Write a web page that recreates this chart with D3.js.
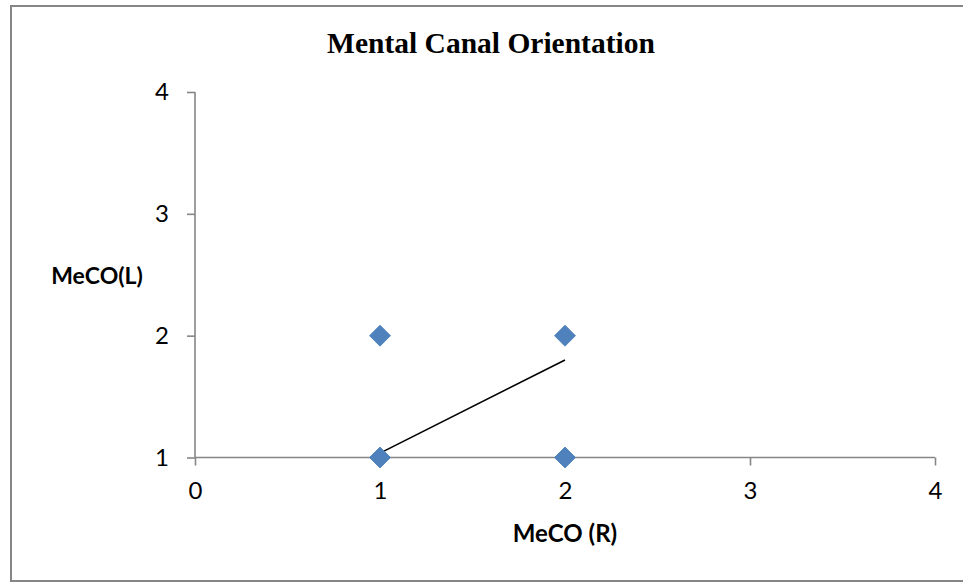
<!DOCTYPE html>
<html>
<head>
<meta charset="utf-8">
<script src="https://cdn.jsdelivr.net/npm/d3@7/dist/d3.min.js"></script>
<style>
  html, body { margin: 0; padding: 0; background: #fff; }
  svg { display: block; }
  .tick text { font-family: Lato, 'Liberation Sans', sans-serif; font-size: 24px; fill: #000; }
</style>
</head>
<body>
<svg id="chart" width="963" height="582"></svg>
<script>
// Observed MeCO values, right side (x) against left side (y)
const meCoRight = [1, 2, 1, 2];
const meCoLeft  = [2, 2, 1, 1];

// Linear trendline endpoints
const trendX = [1, 2];
const trendY = [1.036, 1.80];

const xTicks = [0, 1, 2, 3, 4];
const yTicks = [1, 2, 3, 4];

const titleText = "Mental Canal Orientation";
const xTitle = "MeCO (R)";
const yTitle = "MeCO(L)";

const svg = d3.select("#chart");

// Outer frame
svg.append("rect")
  .attr("x", 11).attr("y", 6)
  .attr("width", 965).attr("height", 575)
  .attr("fill", "#fff")
  .attr("stroke", "#868686")
  .attr("stroke-width", 2);

const x = d3.scaleLinear().domain([0, 4]).range([195, 935]);
const y = d3.scaleLinear().domain([1, 4]).range([457.5, 92]);

const axisColor = "#868686";
const labelFont = "Lato, 'Liberation Sans', sans-serif";

// X axis at y = 1
const xAxis = svg.append("g")
  .attr("transform", `translate(0,${y(1)})`)
  .call(d3.axisBottom(x).tickValues(xTicks).tickSize(8).tickPadding(16).tickFormat(d3.format("d")));
// Y axis at x = 0
const yAxis = svg.append("g")
  .attr("transform", `translate(${x(0)},0)`)
  .call(d3.axisLeft(y).tickValues(yTicks).tickSize(8).tickPadding(18).tickFormat(d3.format("d")));

[xAxis, yAxis].forEach(g => {
  g.attr("font-size", 24).attr("font-family", null);
  g.select(".domain").attr("stroke", axisColor).attr("stroke-width", 1.6);
  g.selectAll(".tick line").attr("stroke", axisColor).attr("stroke-width", 1.6);
  g.selectAll(".tick text").attr("fill", "#000");
});
// Plain axis lines without the outer end ticks
xAxis.select(".domain").attr("d", `M${x(0)},0H${x(4)}`);
yAxis.select(".domain").attr("d", `M0,${y(1)}V${y(4)}`);

// Trendline
svg.append("line")
  .attr("x1", x(trendX[0])).attr("y1", y(trendY[0]))
  .attr("x2", x(trendX[1])).attr("y2", y(trendY[1]))
  .attr("stroke", "#000")
  .attr("stroke-width", 1.6);

// Diamond markers
const diamond = d3.symbol().type(d3.symbolSquare).size(220);
svg.append("g").selectAll("path")
  .data(meCoRight.map((v, i) => ({ r: v, l: meCoLeft[i] })))
  .join("path")
  .attr("d", diamond)
  .attr("transform", d => `translate(${x(d.r)},${y(d.l)}) rotate(45)`)
  .attr("fill", "#4F81BD")
  .attr("stroke", "#4A7EBB")
  .attr("stroke-width", 0.8);

// Title
svg.append("text")
  .attr("x", 491).attr("y", 53)
  .attr("text-anchor", "middle")
  .style("font-family", "'Liberation Serif', 'Times New Roman', serif")
  .style("font-weight", "bold")
  .style("font-size", "29.5px")
  .text(titleText);

// Axis titles
svg.append("text")
  .attr("x", 565).attr("y", 542)
  .attr("text-anchor", "middle")
  .style("font-family", labelFont)
  .style("font-weight", "bold")
  .style("font-size", "24px")
  .text(xTitle);

svg.append("text")
  .attr("x", 97).attr("y", 284)
  .attr("text-anchor", "middle")
  .style("font-family", labelFont)
  .style("font-weight", "bold")
  .style("font-size", "23px")
  .text(yTitle);
</script>
</body>
</html>
